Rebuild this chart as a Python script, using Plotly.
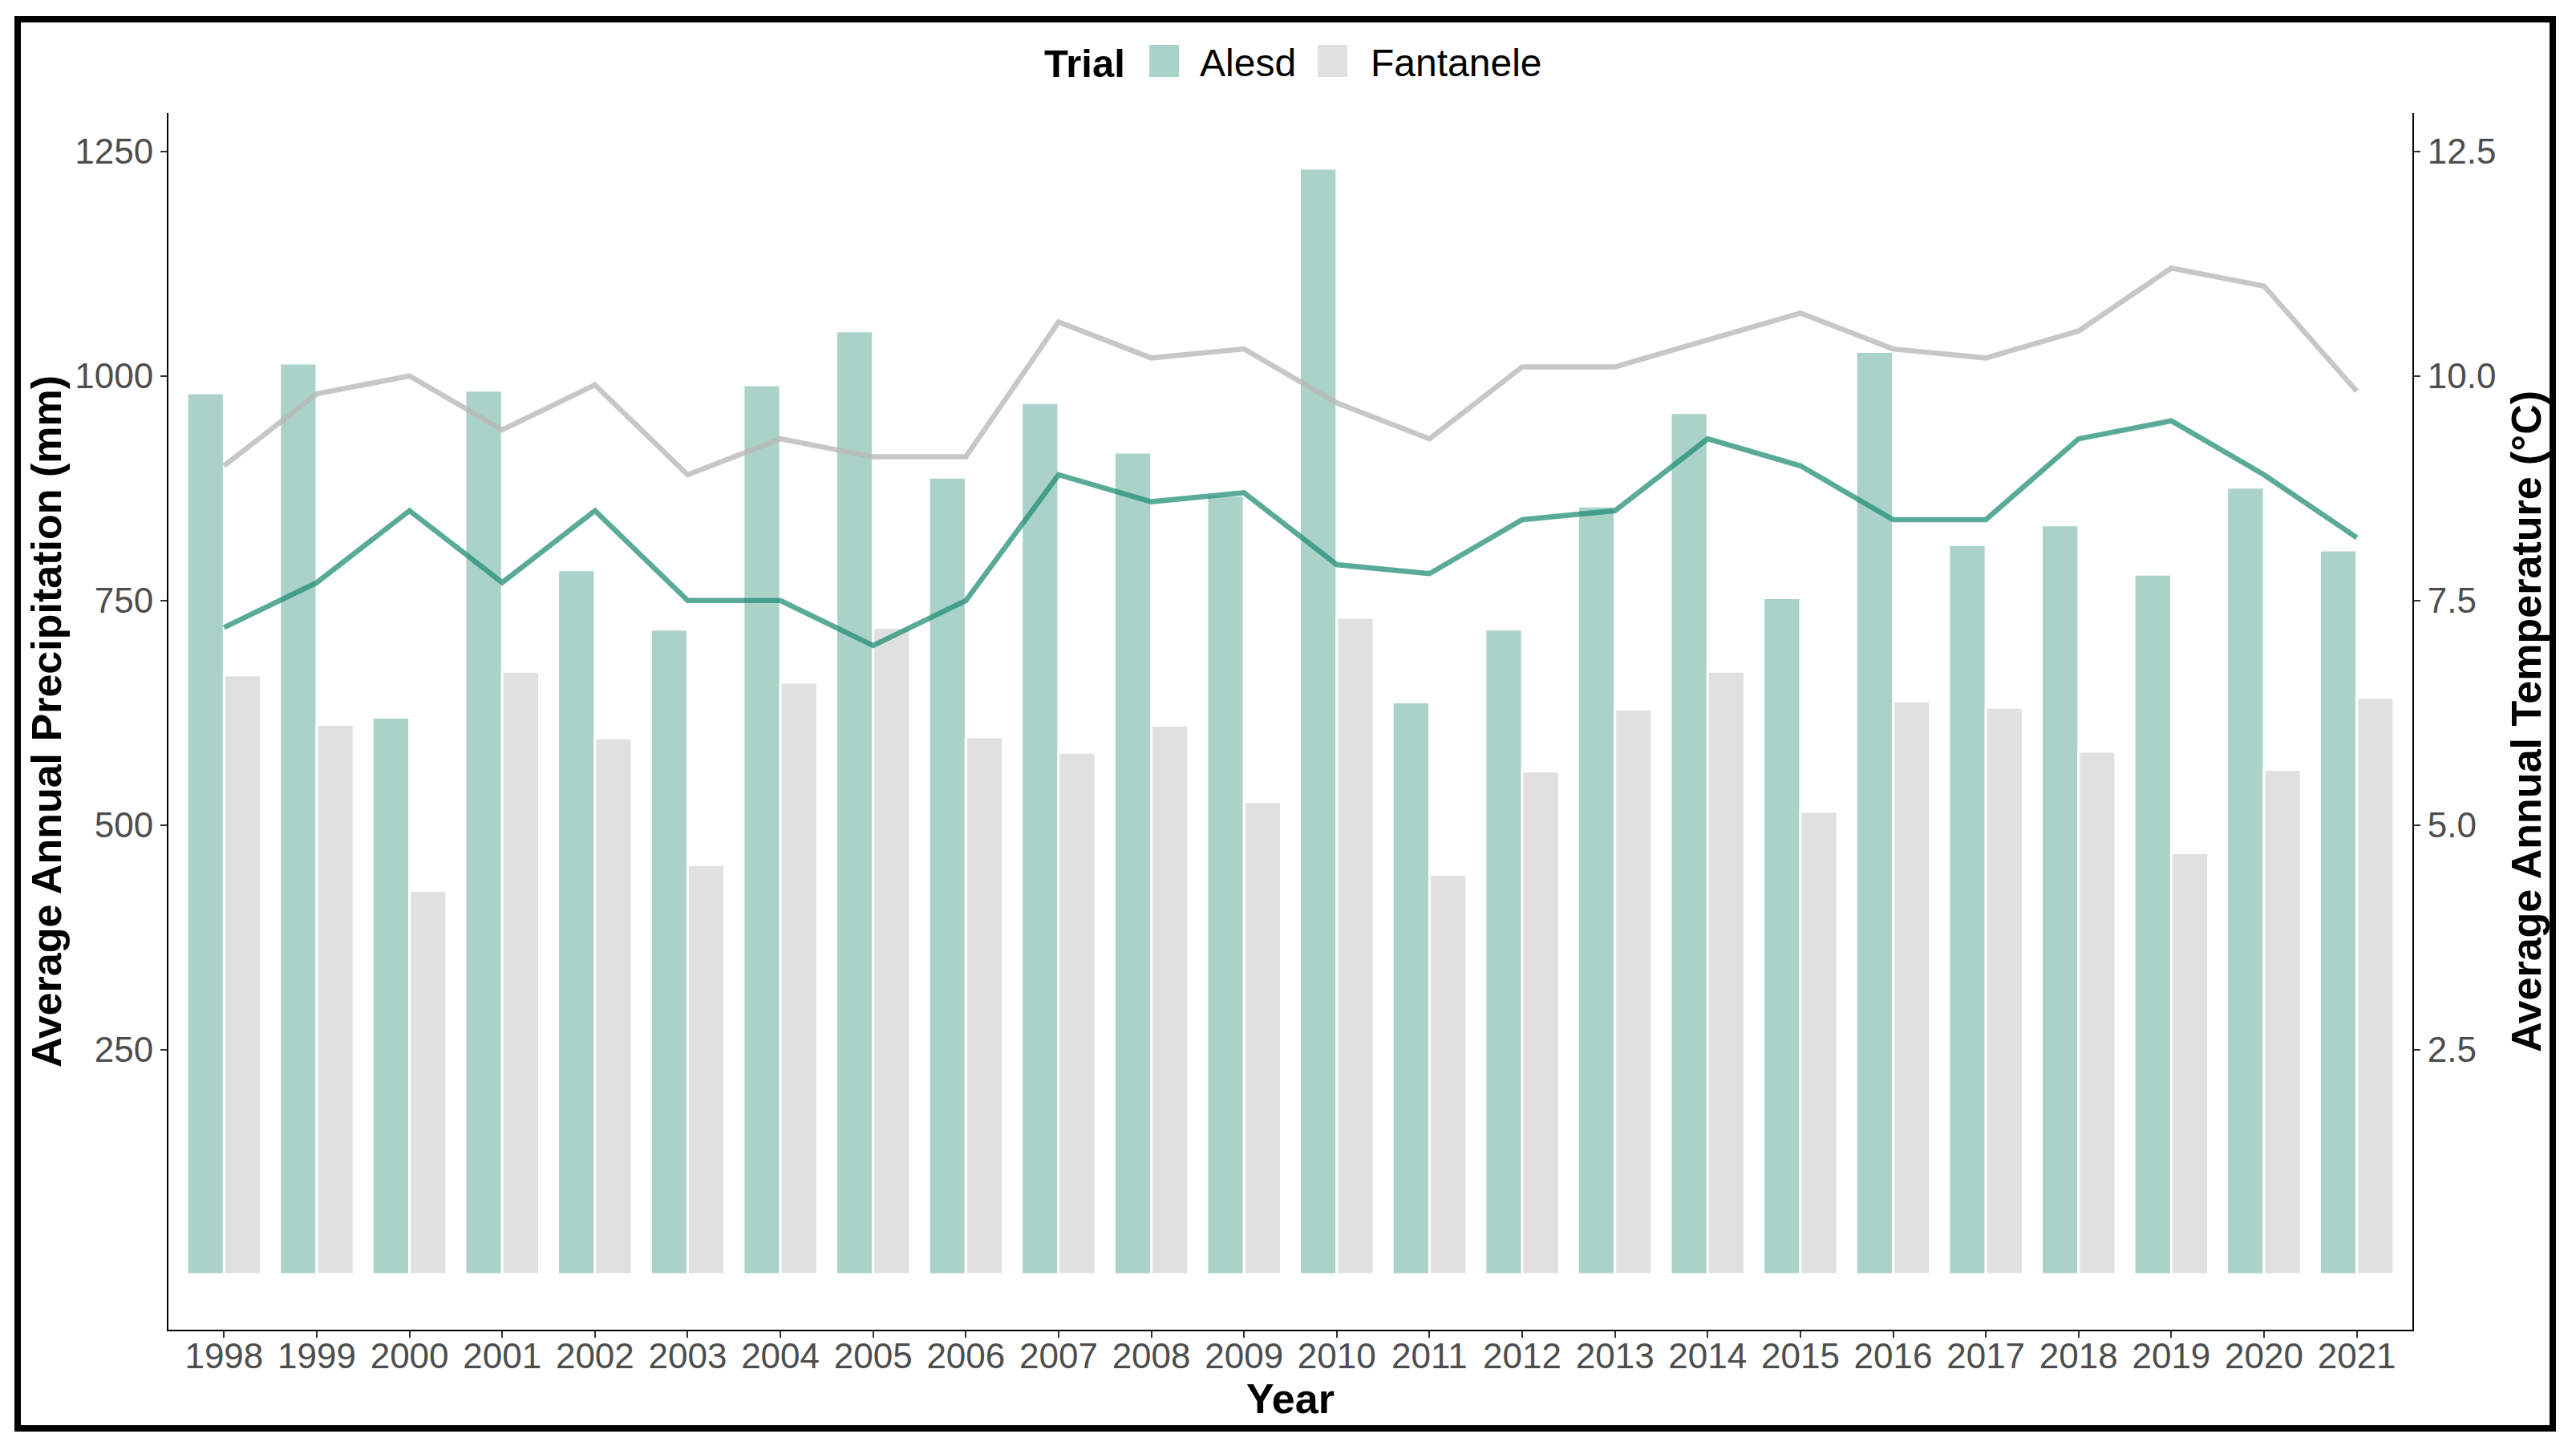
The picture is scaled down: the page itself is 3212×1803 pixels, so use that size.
import plotly.graph_objects as go

# ---------------- data ----------------
years = ["1998", "1999", "2000", "2001", "2002", "2003", "2004", "2005", "2006", "2007", "2008", "2009",
         "2010", "2011", "2012", "2013", "2014", "2015", "2016", "2017", "2018", "2019", "2020", "2021"]
alesd_precip = [981, 1014, 620, 984, 784, 718, 990, 1050, 887, 970, 915, 867,
                1231, 637, 718, 855, 959, 753, 1027, 812, 834, 779, 876, 806]
fantanele_precip = [667, 612, 427, 671, 597, 456, 659, 720, 598, 581, 611, 526,
                    731, 445, 560, 629, 671, 515, 638, 631, 582, 469, 562, 642]
alesd_temp = [7.2, 7.7, 8.5, 7.7, 8.5, 7.5, 7.5, 7.0, 7.5, 8.9, 8.6, 8.7,
              7.9, 7.8, 8.4, 8.5, 9.3, 9.0, 8.4, 8.4, 9.3, 9.5, 8.9, 8.2]
fantanele_temp = [9.0, 9.8, 10.0, 9.4, 9.9, 8.9, 9.3, 9.1, 9.1, 10.6, 10.2, 10.3,
                  9.7, 9.3, 10.1, 10.1, 10.4, 10.7, 10.3, 10.2, 10.5, 11.2, 11.0, 9.83]
trials = ["Alesd", "Fantanele"]
precip_ticks = [250, 500, 750, 1000, 1250]
temp_ticks = [2.5, 5.0, 7.5, 10.0, 12.5]
temp_scale = 100  # secondary axis: temperature * 100 = precipitation scale

# ---------------- styles ----------------
W, H = 3212, 1803
L, R, T, B = 210, 204, 141, 145
FONT = "Liberation Sans, Arial, sans-serif"
bar_colors = {"Alesd": "#ABD2C8", "Fantanele": "#E0E0E0"}
line_colors = {"Alesd": "rgba(31,142,116,0.74)", "Fantanele": "rgba(185,185,185,0.8)"}
TICK_COLOR = "#4D4D4D"

pw, ph = W - L - R, H - T - B


def px_x(p):
    return (p - L) / pw


def px_y(p):
    return (H - B - p) / ph


# ggplot-like 5% expansion of the continuous axis
ymax = max(max(alesd_precip), max(fantanele_precip))
y_lo, y_hi = -0.05 * ymax, ymax * 1.05

fig = go.Figure()
for name, vals in zip(trials, [alesd_precip, fantanele_precip]):
    fig.add_trace(go.Bar(
        x=years, y=vals, name=name, marker=dict(color=bar_colors[name], line=dict(color="white", width=3)),
        showlegend=False, yaxis="y"))
for name, vals in zip(trials, [alesd_temp, fantanele_temp]):
    fig.add_trace(go.Scatter(
        x=years, y=vals, mode="lines", name=name + " temp",
        line=dict(color=line_colors[name], width=6.5), showlegend=False, yaxis="y2"))

axis_common = dict(
    showline=True, linecolor="black", linewidth=2, ticks="outside", ticklen=8, tickwidth=2,
    tickcolor="#333333", showgrid=False, zeroline=False,
    tickfont=dict(family=FONT, size=44, color=TICK_COLOR),
)

fig.update_layout(
    width=W, height=H, autosize=False,
    margin=dict(l=L, r=R, t=T, b=B),
    paper_bgcolor="white", plot_bgcolor="white",
    barmode="group", bargap=0.2, bargroupgap=0,
    font=dict(family=FONT, color="black"),
    xaxis=dict(axis_common, type="category", range=[-0.6, len(years) - 0.4], ticklabelstandoff=-15,
               title=dict(text="<b>Year</b>", font=dict(family=FONT, size=52, color="black"), standoff=2)),
    yaxis=dict(axis_common, range=[y_lo, y_hi], tickvals=precip_ticks,
               title=dict(text="<b>Average Annual Precipitation (mm)</b>",
                          font=dict(family=FONT, size=52, color="black"), standoff=0)),
    yaxis2=dict(axis_common, overlaying="y", side="right", range=[y_lo / temp_scale, y_hi / temp_scale],
                tickvals=temp_ticks, ticktext=[f"{v:.1f}" for v in temp_ticks],
                title=dict(text="<b>Average Annual Temperature (°C)</b>",
                           font=dict(family=FONT, size=52, color="black"), standoff=20)),
)

shapes = []
annotations = []
# outer black frame
shapes.append(dict(type="rect", xref="paper", yref="paper",
                   x0=px_x(22), x1=px_x(3183), y0=px_y(1781), y1=px_y(24),
                   line=dict(color="black", width=8), fillcolor="rgba(0,0,0,0)", layer="above"))
# legend (manual, ggplot style keys)
annotations.append(dict(xref="paper", yref="paper", x=px_x(1300), y=px_y(79), xanchor="left", yanchor="middle",
                        text="<b>Trial</b>", showarrow=False, font=dict(family=FONT, size=49, color="black")))
key_x = {"Alesd": 1433, "Fantanele": 1643}
label_x = {"Alesd": 1494, "Fantanele": 1707}
for name in trials:
    shapes.append(dict(type="rect", xref="paper", yref="paper",
                       x0=px_x(key_x[name]), x1=px_x(key_x[name] + 37), y0=px_y(96), y1=px_y(56),
                       line=dict(width=0), fillcolor=bar_colors[name]))
    annotations.append(dict(xref="paper", yref="paper", x=px_x(label_x[name]), y=px_y(79),
                            xanchor="left", yanchor="middle", text=name, showarrow=False,
                            font=dict(family=FONT, size=48, color="black")))
fig.update_layout(shapes=shapes, annotations=annotations)

fig.write_html("out.html", config={"displayModeBar": False},
               post_script="document.body.style.margin='0';document.body.style.overflow='hidden';")
